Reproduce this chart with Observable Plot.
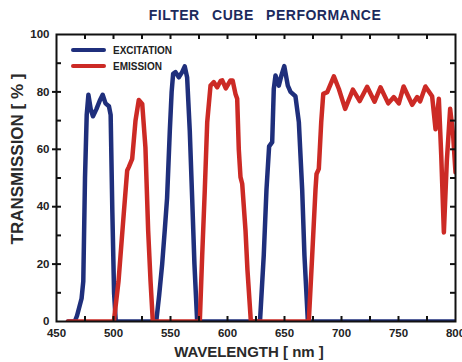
<!DOCTYPE html>
<html>
<head>
<meta charset="utf-8">
<script src="https://cdn.jsdelivr.net/npm/d3@7"></script>
<script src="https://cdn.jsdelivr.net/npm/@observablehq/plot@0.6"></script>
<style>
  html, body { margin: 0; padding: 0; background: #fff; }
  #wrap { width: 462px; height: 362px; overflow: hidden; position: relative; }
  #title {
    height: 27px; line-height: 30px; width: 462px; box-sizing: border-box;
    padding-left: 68px; text-align: center;
    font-family: "Liberation Sans", Arial, sans-serif; font-weight: bold; font-size: 14px;
    letter-spacing: 0.5px; word-spacing: 8px; color: #1c2a5c;
  }
  #chart svg { overflow: visible; }
</style>
</head>
<body>
<div id="wrap">
  <div id="title">FILTER CUBE PERFORMANCE</div>
  <div id="chart"></div>
</div>
<script>
// ---- data ----
const excitationNm = [460,466,468,472,473.5,475,476.5,478,480,482,485,488,490.5,493,496,497.5,499,500.5,502,
  537.5,540,542.7,545,547,549.4,551,552.3,554.4,557.3,560.2,562.5,564.6,566.9,569,571,573.4,
  628.5,631.8,634.2,636.5,639.2,640.6,642.1,645,647.5,649.8,652.9,655.3,659.6,662.6,665.5,667.5,670.5,800];
const excitationPct = [0,0,2,8,14,50,72,79,74,71.5,74,77,79,76,75,72,38,10,0,
  0,9,20,32,43,66.5,80,86.3,86.9,85.1,86.9,88.9,85,66.5,43,20,0,
  0,23,46,61,62.5,81,85.7,82.2,86,89,82.2,80,78.5,69.4,46,23,0,0];

const emissionNm = [460,500.3,504.4,509,512,513.4,516.4,519.3,522.2,525.2,528,530.4,532.5,534.5,
  575.7,577.8,580.1,582.2,585.1,588,590.9,593.9,595.4,598.5,602.6,604.5,607,608.5,609.9,611.4,612.9,615.8,617.5,620.5,
  671.3,674.3,677.2,678.1,680.1,682.2,684,687.5,693.3,697.7,703.2,710,716,722.5,729,734.2,741,745.9,750.3,754.5,
  762,766.4,769,773.6,779.5,782.5,785.4,787.5,789.8,792.4,795.3,797.9,800];
const emissionPct = [0,0,14,37.6,52.6,53.8,56.7,70,77.2,75.8,60.7,31.7,14,0,
  0,23,46,69.4,82.2,83.4,81.6,83.8,84,81.2,84,84,79.3,77.6,60,50.3,48,31.7,18,0,
  0,23,46,51.4,53.2,69.4,79.3,79.9,85.4,81,74.1,80.8,76.8,81.8,76.6,81.6,76,78.2,76,81.9,
  75.5,78.2,76.7,81.9,78.5,67,77.6,57.8,31,56,74.1,65,52];

const seriesNames = ["EXCITATION", "EMISSION"];
const seriesColors = ["#1f2f7c", "#cc2a25"];

const xTickLabels = [450, 500, 550, 600, 650, 700, 750, 800];
const xTickMarks = [475, 500, 525, 550, 575, 600, 625, 650, 675, 700, 725, 750, 775];
const yTickLabels = [0, 20, 40, 60, 80, 100];
const yTickMarks = [10, 20, 30, 40, 50, 60, 70, 80, 90];

const excitation = excitationNm.map((x, i) => ({x, y: excitationPct[i]}));
const emission = emissionNm.map((x, i) => ({x, y: emissionPct[i]}));

const W = 462, H = 335, mT = 7, mB = 41, mL = 56, mR = 7;
const iW = W - mL - mR, iH = H - mT - mB;
const tl = 5;

const chart = Plot.plot({
  width: W, height: H,
  marginTop: mT, marginBottom: mB, marginLeft: mL, marginRight: mR,
  style: {fontFamily: "'Liberation Sans', Arial, sans-serif", fontWeight: "bold", fontSize: "11px", color: "#222", background: "#fff", overflow: "visible"},
  x: {domain: [450, 800]},
  y: {domain: [0, 100]},
  marks: [
    Plot.line(excitation, {x: "x", y: "y", stroke: seriesColors[0], strokeWidth: 4.5, strokeLinejoin: "round", strokeLinecap: "round", clip: true}),
    Plot.line(emission, {x: "x", y: "y", stroke: seriesColors[1], strokeWidth: 4.5, strokeLinejoin: "round", strokeLinecap: "round", clip: true}),
    // inward tick marks
    Plot.tickX(xTickMarks, {x: d => d, insetTop: iH - tl, stroke: "#111", strokeWidth: 2}),
    Plot.tickX(xTickMarks, {x: d => d, insetBottom: iH - tl, stroke: "#111", strokeWidth: 2}),
    Plot.tickY(yTickMarks, {y: d => d, insetRight: iW - tl, stroke: "#111", strokeWidth: 2}),
    Plot.tickY(yTickMarks, {y: d => d, insetLeft: iW - tl, stroke: "#111", strokeWidth: 2}),
    Plot.tickY(yTickLabels.slice(1, -1), {y: d => d, insetRight: iW - 4, dx: -4, stroke: "#111", strokeWidth: 2}),
    Plot.frame({stroke: "#111", strokeWidth: 2}),
    Plot.axisX({ticks: xTickLabels, tickSize: 0, tickPadding: 7, label: null, fontSize: 11.5, fontWeight: "bold", fill: "#222"}),
    Plot.axisY({ticks: yTickLabels, tickSize: 0, tickPadding: 7, label: null, fontSize: 11.5, fontWeight: "bold", fill: "#222"}),
    Plot.text(["WAVELENGTH [ nm ]"], {frameAnchor: "bottom", textAnchor: "middle", dx: -7, dy: 31, lineAnchor: "middle", fontSize: 15, fontWeight: "bold", fill: "#2a2a2a"}),
    Plot.text(["TRANSMISSION [ % ]"], {frameAnchor: "left", textAnchor: "middle", dx: -39, dy: -19, rotate: -90, lineAnchor: "middle", fontSize: 17, letterSpacing: "1.6px", fontWeight: "bold", fill: "#2a2a2a"})
  ]
});
document.getElementById("chart").append(chart);

// legend in the frame's top-left corner
const svg = d3.select(chart);
const lg = svg.append("g").attr("transform", `translate(${mL}, ${mT})`).attr("text-anchor", "start");
seriesNames.forEach((name, i) => {
  const y = 16 + i * 16;
  lg.append("line").attr("x1", 17).attr("x2", 48).attr("y1", y).attr("y2", y)
    .attr("stroke", seriesColors[i]).attr("stroke-width", 4).attr("stroke-linecap", "round");
  lg.append("text").attr("x", 57).attr("y", y).attr("dy", "0.35em")
    .attr("font-size", 10).attr("font-weight", "bold").attr("fill", "#222").text(name);
});
</script>
</body>
</html>
